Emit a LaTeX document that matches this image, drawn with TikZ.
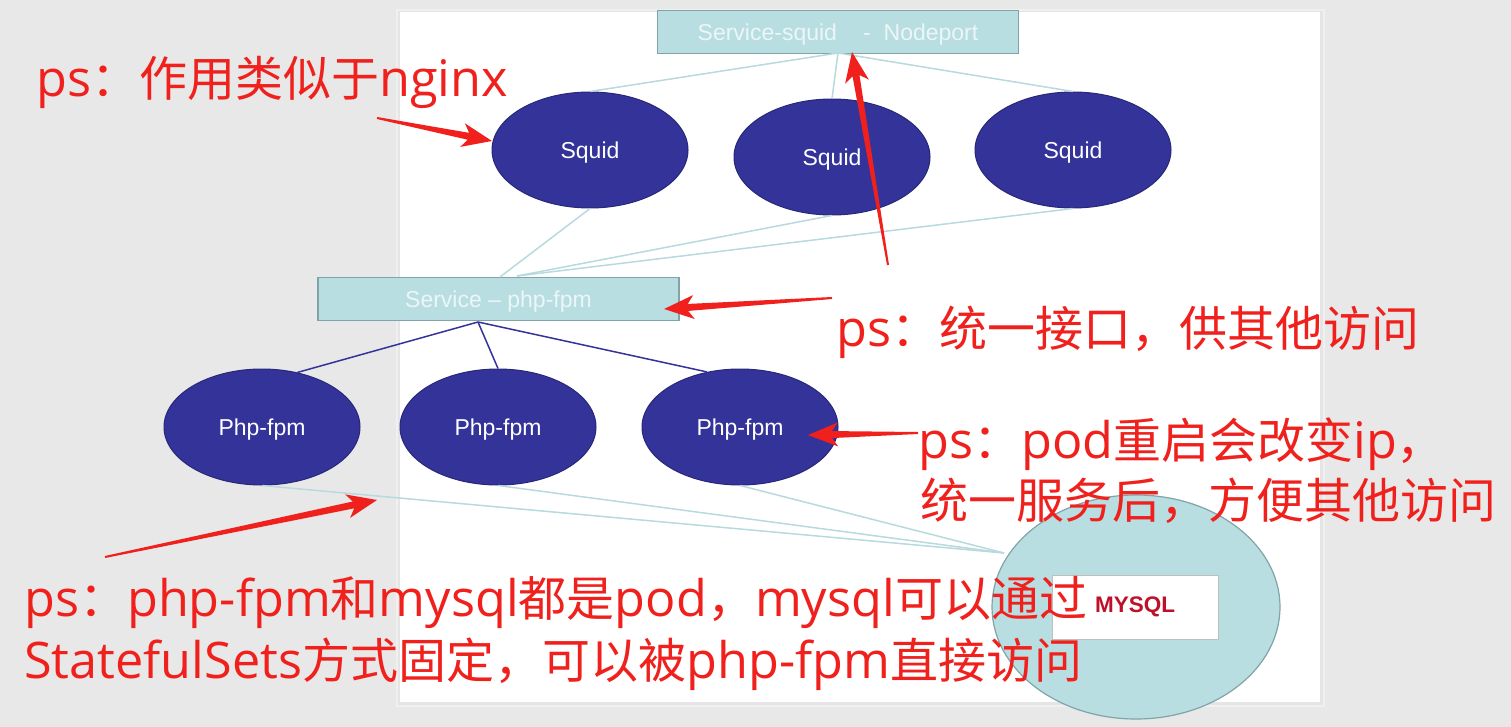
\documentclass[tikz,border=0pt]{standalone}
\usepackage{fontspec}
\setsansfont{Liberation Sans}
\newfontfamily\cjkfont{Noto Sans CJK SC}
\newfontfamily\latfont[Scale=1.05]{Open Sans}
\usetikzlibrary{calc,shapes.geometric}
\definecolor{bg}{RGB}{232,232,232}
\definecolor{svcfill}{RGB}{184,222,226}
\definecolor{svcdraw}{RGB}{128,164,168}
\definecolor{navy}{RGB}{51,51,153}
\definecolor{navyd}{RGB}{40,40,120}
\definecolor{lline}{RGB}{184,218,222}
\definecolor{redc}{RGB}{240,32,28}
\definecolor{mysqlred}{RGB}{190,16,40}
\definecolor{svctext}{RGB}{236,246,247}
\newcommand\latseg[1]{{\latfont #1}}
\newcommand\redarrow[2]{%
  \fill[redc] ($(#1)!1pt!-90:(#2)$) -- ($(#2)!24pt!(#1)!3.5pt!90:(#1)$) -- ($(#2)!30pt!(#1)!12pt!90:(#1)$) -- (#2)
    -- ($(#2)!30pt!(#1)!12pt!-90:(#1)$) -- ($(#2)!24pt!(#1)!3.5pt!-90:(#1)$) -- ($(#1)!1pt!90:(#2)$) -- cycle;}
\tikzset{
  svc/.style={rectangle, fill=svcfill, draw=svcdraw, line width=1.5pt, minimum width=361pt, minimum height=43pt, inner sep=0pt, font=\sffamily\fontsize{23}{26}\selectfont, text=svctext, text height=16.5pt, text depth=0pt},
  pod/.style={ellipse, fill=navy, draw=navyd, line width=1pt, minimum width=196pt, minimum height=116pt, inner sep=0pt, font=\sffamily\fontsize{23}{26}\selectfont, text=white, text height=16.5pt, text depth=0pt},
  light/.style={draw=lline, line width=1.5pt},
  dark/.style={draw=navy, line width=1.5pt},
  note/.style={anchor=base west, inner sep=0pt, text=redc, font=\cjkfont\fontsize{48}{60}\selectfont},
}
\begin{document}
\begin{tikzpicture}[x=1pt,y=-1pt]
\useasboundingbox (0,0) rectangle (1511,727);
\fill[bg] (0,0) rectangle (1511,727);
% slide with soft shadow
\fill[black!6] (396,9) rectangle (1325,707);
\fill[black!10] (398,11) rectangle (1323,705);
\fill[white] (400,12) rectangle (1320,702);

% nodes
\node[svc] (svcsq) at (838,32) {Service-squid\hspace{26pt}-\hspace{13pt}Nodeport};
\node[pod] (sq1) at (590,150) {Squid};
\node[pod] (sq2) at (832,157) {Squid};
\node[pod] (sq3) at (1073,150) {Squid};
\node[svc] (svcphp) at (498.5,299) {Service – php-fpm};
\node[pod] (pf1) at (262,427) {Php-fpm};
\node[pod] (pf2) at (498,427) {Php-fpm};
\node[pod] (pf3) at (740,427) {Php-fpm};
\node[ellipse, fill=svcfill, draw=svcdraw, line width=1.2pt, minimum width=288pt, minimum height=224pt, inner sep=0pt] (my) at (1136,607) {};
\node[rectangle, fill=white, draw=black!25, line width=1pt, minimum width=166pt, minimum height=64pt, inner sep=0pt, text=mysqlred, font=\sffamily\bfseries\fontsize{22.5}{26}\selectfont] (mybox) at (1135,607) {MYSQL};

% connectors
\coordinate (sqs) at (838,53);
\draw[light] (sqs) -- (sq1.north);
\draw[light] (sqs) -- (sq2.north);
\draw[light] (sqs) -- (sq3.north);
\coordinate (pn1) at (500,277);
\coordinate (pn2) at (517,276);
\draw[light] (sq1.south) -- (pn1);
\draw[light] (sq2.south) -- (pn2);
\draw[light] (sq3.south) -- (pn2);
\coordinate (pss) at (478,322);
\draw[dark] (pss) -- (pf1.57);
\draw[dark] (pss) -- (pf2.north);
\draw[dark] (pss) -- (pf3.121);
\coordinate (myin) at (1004,553);
\draw[light] (pf1.south) -- (myin);
\draw[light] (pf2.south) -- (myin);
\draw[light] (pf3.south) -- (myin);

% red annotation arrows
\coordinate (t1) at (377,118); \coordinate (h1) at (492,141);
\coordinate (t2) at (888,265); \coordinate (h2) at (852,52);
\coordinate (t3) at (832,298); \coordinate (h3) at (664,309);
\coordinate (t4) at (918,433); \coordinate (h4) at (808,435);
\coordinate (t5) at (105,557); \coordinate (h5) at (377,500);
\redarrow{t1}{h1}
\redarrow{t2}{h2}
\redarrow{t3}{h3}
\redarrow{t4}{h4}
\redarrow{t5}{h5}

% red notes
\node[note] (n1) at (36,97) {\latseg{ps}：作用类似于\latseg{nginx}};
\node[note] (n2) at (836,346) {\latseg{ps}：统一接口，供其他访问};
\node[note] (n3a) at (918,458) {\latseg{ps}：\latseg{pod}重启会改变\latseg{ip}，};
\node[note] (n3b) at (920,518) {统一服务后，方便其他访问};
\node[note] (n4a) at (24,616) {\latseg{ps}：\latseg{php-fpm}和\latseg{mysql}都是\latseg{pod}，\latseg{mysql}可以通过};
\node[note] (n4b) at (24,678) {\latseg{StatefulSets}方式固定，可以被\latseg{php-fpm}直接访问};
\end{tikzpicture}
\end{document}
